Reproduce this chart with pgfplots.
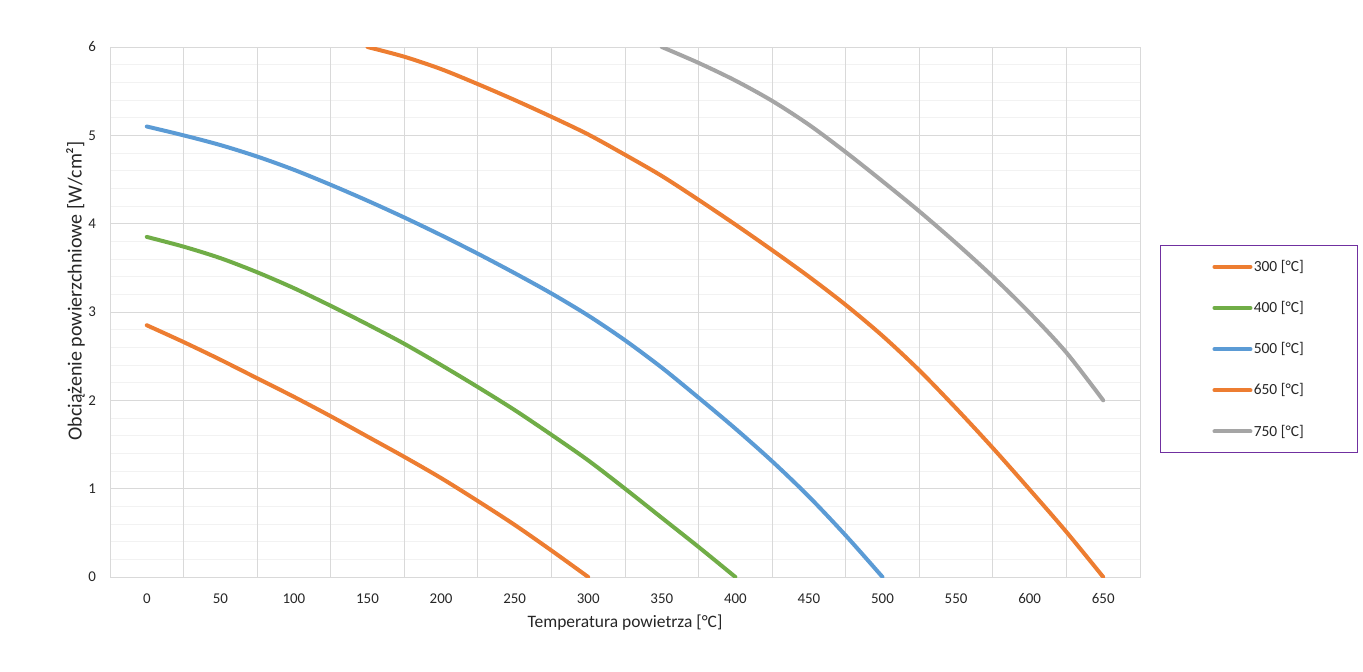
\documentclass[border=0pt]{standalone}
\usepackage{fontspec}
\setmainfont{Carlito}
\usepackage{pgfplots}
\pgfplotsset{compat=1.18}
\definecolor{cOrange}{HTML}{ED7D31}
\definecolor{cGreen}{HTML}{70AD47}
\definecolor{cBlue}{HTML}{5B9BD5}
\definecolor{cGray}{HTML}{A5A5A5}
\definecolor{gridMajor}{HTML}{D9D9D9}
\definecolor{gridMinor}{HTML}{F2F2F2}
\definecolor{legPurple}{HTML}{7030A0}
\newcommand{\fs}{\fontsize{11.2}{13}\selectfont}
\begin{document}
\begin{tikzpicture}
\path[use as bounding box] (0,0) rectangle (1022.25pt,503.25pt);
\begin{axis}[
  scale only axis,
  width=772.5pt, height=397.5pt,
  at={(82.5pt,70.5pt)}, anchor=south west,
  xmin=-25, xmax=675, ymin=0, ymax=6,
  xtick={0,50,...,650},
  ytick={0,1,...,6},
  minor y tick num=4,
  major tick length=0pt, minor tick length=0pt,
  extra x ticks={-25,25,...,675},
  extra x tick labels={},
  extra x tick style={grid=major, major tick length=0pt},
  ymajorgrids, yminorgrids,
  major grid style={draw=gridMajor, line width=0.75pt},
  minor grid style={draw=gridMinor, line width=0.75pt},
  axis line style={draw=gridMajor, line width=0.75pt},
  tick label style={font=\fs, text=black!85},
  /pgf/number format/assume math mode=true,
  xticklabel shift=9pt,
  yticklabel shift=7pt,
  xlabel={Temperatura powietrza [°C]},
  ylabel={Obciążenie powierzchniowe [W/cm²]},
  x label style={at={(axis description cs:0.5,-0.0868)}, anchor=center, font=\fontsize{13.1}{15}\selectfont, text=black!85},
  y label style={at={(axis description cs:-0.0335,0.54)}, anchor=center, font=\fontsize{15}{17}\selectfont, text=black!85},
  legend style={at={(rel axis cs:1.0194,0.6264)}, anchor=north west,
    draw=legPurple, line width=0.75pt, font=\fontsize{11.6}{13}\selectfont, text=black!85,
    inner xsep=39pt, inner ysep=10pt, row sep=19pt,
    nodes={inner sep=1pt}},
  legend cell align=left,
  legend image code/.code={\draw[#1, line width=3pt] (0pt,0pt) -- (27pt,0pt);},
  every axis plot/.append style={line width=3pt, smooth, line cap=round, line join=round},
]
\addplot[cOrange] coordinates {(0,2.85)(25,2.66)(50,2.46)(75,2.25)(100,2.04)(125,1.82)(150,1.59)(175,1.36)(200,1.12)(225,0.86)(250,0.59)(275,0.30)(300,0)};
\addlegendentry{300 [°C]}
\addplot[cGreen] coordinates {(0,3.85)(25,3.74)(50,3.61)(75,3.45)(100,3.27)(125,3.07)(150,2.86)(175,2.64)(200,2.40)(225,2.15)(250,1.89)(275,1.61)(300,1.32)(325,1.00)(350,0.67)(375,0.34)(400,0)};
\addlegendentry{400 [°C]}
\addplot[cBlue] coordinates {(0,5.10)(25,5.00)(50,4.89)(75,4.76)(100,4.61)(125,4.44)(150,4.26)(175,4.07)(200,3.87)(225,3.66)(250,3.44)(275,3.21)(300,2.96)(325,2.68)(350,2.37)(375,2.03)(400,1.68)(425,1.31)(450,0.91)(475,0.47)(500,0)};
\addlegendentry{500 [°C]}
\addplot[cOrange] coordinates {(150,6.0)(175,5.89)(200,5.75)(225,5.58)(250,5.40)(275,5.21)(300,5.01)(325,4.78)(350,4.54)(375,4.27)(400,3.99)(425,3.70)(450,3.40)(475,3.08)(500,2.73)(525,2.34)(550,1.91)(575,1.46)(600,0.99)(625,0.51)(650,0)};
\addlegendentry{650 [°C]}
\addplot[cGray] coordinates {(350,6.0)(375,5.82)(400,5.62)(425,5.39)(450,5.12)(475,4.81)(500,4.48)(525,4.14)(550,3.78)(575,3.40)(600,2.99)(625,2.54)(650,2.0)};
\addlegendentry{750 [°C]}
\end{axis}
\end{tikzpicture}
\end{document}
